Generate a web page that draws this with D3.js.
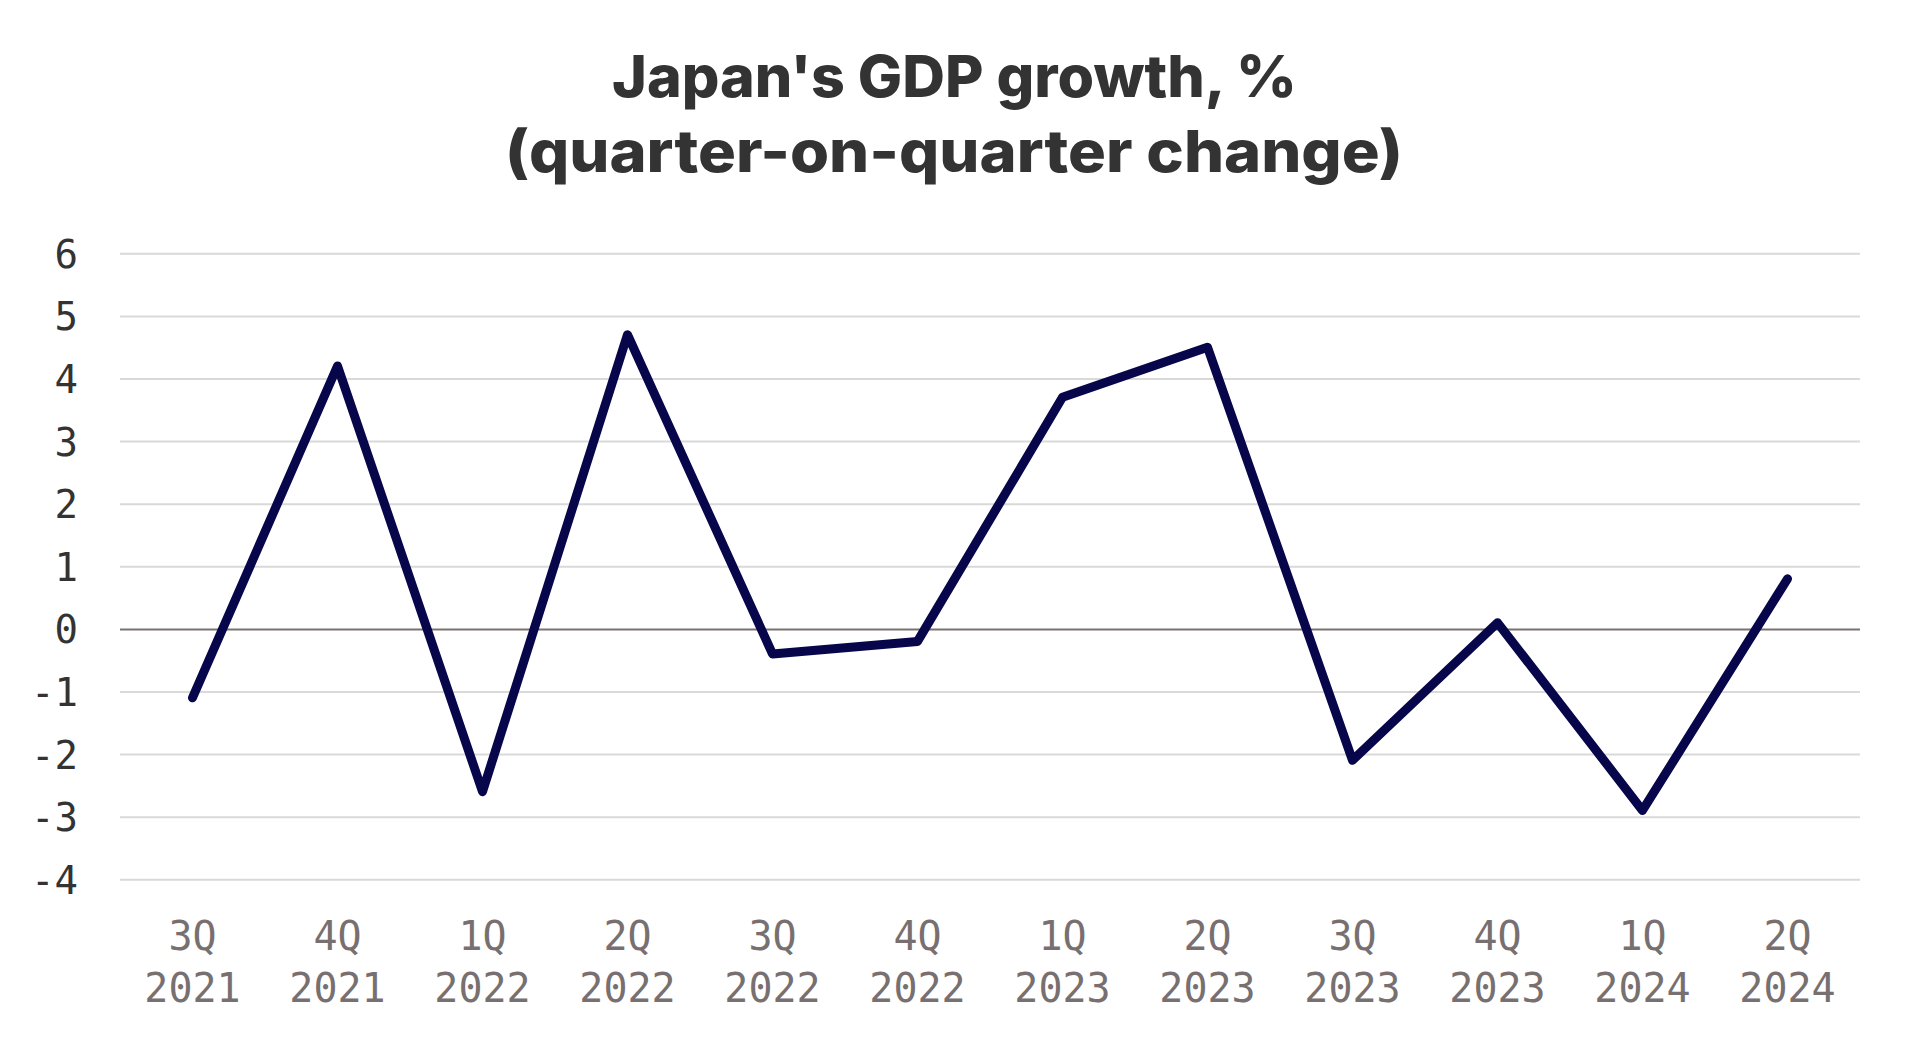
<!DOCTYPE html>
<html>
<head>
<meta charset="utf-8">
<script src="https://cdn.jsdelivr.net/npm/d3@7"></script>
<style>
  html, body { margin: 0; padding: 0; background: #ffffff; }
  svg { display: block; }
</style>
</head>
<body>
<svg id="chart" width="1915" height="1045"></svg>
<script>
const titleLines = ["Japan's GDP growth, %", "(quarter-on-quarter change)"];
const quarters = ["3Q", "4Q", "1Q", "2Q", "3Q", "4Q", "1Q", "2Q", "3Q", "4Q", "1Q", "2Q"];
const years = ["2021", "2021", "2022", "2022", "2022", "2022", "2023", "2023", "2023", "2023", "2024", "2024"];
const gdpGrowth = [-1.1, 4.2, -2.6, 4.7, -0.4, -0.2, 3.7, 4.5, -2.1, 0.1, -2.9, 0.8];
const yTicks = [-4, -3, -2, -1, 0, 1, 2, 3, 4, 5, 6];

const categories = quarters.map((q, i) => q + " " + years[i]);
const W = 1915, H = 1045;
const margin = { left: 120, right: 55, top: 253.3, bottom: 165.7 };

const svg = d3.select("#chart");

const x = d3.scaleBand().domain(categories).range([margin.left, W - margin.right]);
const y = d3.scaleLinear().domain([-4, 6]).range([H - margin.bottom, margin.top]);

// Title
const titleSpecs = [
  { y: 97, x0: 612, x1: 1297 },
  { y: 172, x0: 505, x1: 1403 }
];
titleLines.forEach((t, i) => {
  const s = titleSpecs[i];
  svg.append("text")
    .attr("x", s.x0)
    .attr("y", s.y)
    .attr("text-anchor", "start")
    .attr("font-family", "Inter, 'Noto Sans', sans-serif")
    .attr("font-weight", 800)
    .attr("font-size", 58)
    .attr("fill", "#333333")
    .attr("textLength", s.x1 - s.x0)
    .attr("lengthAdjust", "spacingAndGlyphs")
    .text(t);
});

// Gridlines
const yAxis = d3.axisLeft(y).tickValues(yTicks).tickSize(-(W - margin.left - margin.right)).tickFormat(d3.format("d")).tickPadding(42);
const gy = svg.append("g").attr("transform", `translate(${margin.left},0)`).call(yAxis);
gy.select(".domain").remove();
gy.selectAll(".tick line")
  .attr("stroke", d => d === 0 ? "#7a7272" : "#d9d9d9")
  .attr("stroke-width", 2);
gy.selectAll(".tick text")
  .attr("font-family", "'DejaVu Sans Mono', 'Liberation Mono', monospace")
  .attr("font-size", 39)
  .attr("fill", "#333333")
  .attr("dy", "0.36em")
  .text(d => d < 0 ? "-" + Math.abs(d) : d);

gy.selectAll(".tick").filter(d => d === 0).raise();

// X labels
const xAxis = d3.axisBottom(x).tickSize(0).tickFormat("");
const gx = svg.append("g").attr("transform", `translate(0,${H - margin.bottom})`).call(xAxis);
gx.select(".domain").remove();
gx.selectAll(".tick").each(function(d, i) {
  const t = d3.select(this).append("text")
    .attr("text-anchor", "middle")
    .attr("font-family", "'DejaVu Sans Mono', 'Liberation Mono', monospace")
    .attr("font-size", 40)
    .attr("fill", "#787070");
  t.append("tspan").attr("x", 0).attr("y", 71).text(quarters[i]);
  t.append("tspan").attr("x", 0).attr("y", 123).text(years[i]);
});

// Line
const line = d3.line()
  .x((d, i) => x(categories[i]) + x.bandwidth() / 2)
  .y(d => y(d));

svg.append("path")
  .datum(gdpGrowth)
  .attr("d", line)
  .attr("fill", "none")
  .attr("stroke", "#07064a")
  .attr("stroke-width", 9)
  .attr("stroke-linejoin", "round")
  .attr("stroke-linecap", "round");
</script>
</body>
</html>
